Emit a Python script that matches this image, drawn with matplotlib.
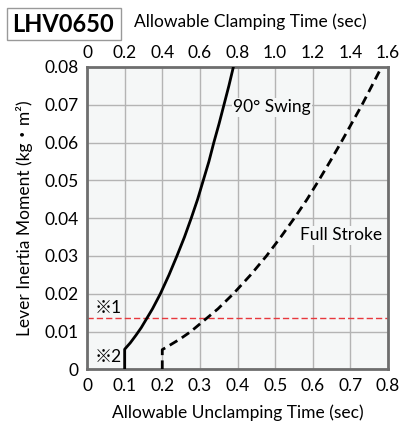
import numpy as np
import matplotlib.pyplot as plt
from matplotlib.patches import Rectangle

plt.rcParams['font.family'] = ['Lato', 'Noto Sans CJK JP', 'DejaVu Sans']

# Data (x = unclamping time, y = inertia)
swing_x = [0.1, 0.1, 0.115, 0.130, 0.144, 0.159, 0.174, 0.195, 0.218, 0.239, 0.259,
           0.277, 0.294, 0.309, 0.324, 0.337, 0.351, 0.364, 0.377, 0.389]
swing_y = [0.0, 0.0053, 0.007, 0.009, 0.011, 0.0135, 0.016, 0.020, 0.025, 0.030, 0.035,
           0.040, 0.045, 0.050, 0.055, 0.060, 0.065, 0.070, 0.075, 0.080]

stroke_x = [0.2, 0.2, 0.222, 0.247, 0.276, 0.318, 0.348, 0.389, 0.435, 0.477, 0.515,
            0.551, 0.585, 0.616, 0.646, 0.675, 0.703, 0.731, 0.757, 0.783]
stroke_y = [0.0, 0.0052, 0.0065, 0.008, 0.010, 0.0135, 0.016, 0.020, 0.025, 0.030, 0.035,
            0.040, 0.045, 0.050, 0.055, 0.060, 0.065, 0.070, 0.075, 0.080]

limit_y = 0.0135

x_ticks = [0, 0.1, 0.2, 0.3, 0.4, 0.5, 0.6, 0.7, 0.8]
x_labels = ['0', '0.1', '0.2', '0.3', '0.4', '0.5', '0.6', '0.7', '0.8']
top_labels = ['0', '0.2', '0.4', '0.6', '0.8', '1.0', '1.2', '1.4', '1.6']
y_ticks = [0, 0.01, 0.02, 0.03, 0.04, 0.05, 0.06, 0.07, 0.08]
y_labels = ['0', '0.01', '0.02', '0.03', '0.04', '0.05', '0.06', '0.07', '0.08']

fig = plt.figure(figsize=(4.01, 4.24), dpi=100)
ax = fig.add_axes([0.217, 0.129, 0.7506, 0.713])
bg = '#f5f7f7'
ax.set_facecolor(bg)

ax.plot(swing_x, swing_y, color='black', lw=2.0, zorder=3, solid_joinstyle='round')
ax.plot(stroke_x, stroke_y, color='black', lw=2.0, dashes=(3.2, 1.9), zorder=3)
ax.axhline(limit_y, color='#e8383d', lw=1.0, dashes=(4.5, 2.2), zorder=2)

ax.set_xlim(0, 0.8)
ax.set_ylim(0, 0.08)
ax.set_xticks(x_ticks, x_labels)
ax.set_yticks(y_ticks, y_labels)
ax.tick_params(length=0, labelsize=12.5, pad=6)
ax.grid(True, color='#b4b4b4', lw=1.0)
ax.set_axisbelow(True)
for s in ax.spines.values():
    s.set_color('#6e6e6e')
    s.set_linewidth(2.0)

top = ax.twiny()
top.set_xlim(0, 1.6)
top.set_xticks([v * 2 for v in x_ticks], top_labels)
top.tick_params(length=0, labelsize=12.5, pad=4)
for s in top.spines.values():
    s.set_visible(False)

ax.text(0.389, 0.0693, '90° Swing', fontsize=12.5, va='center', ha='left',
        bbox=dict(facecolor=bg, edgecolor='none', pad=1), zorder=4)
ax.text(0.566, 0.0355, 'Full Stroke', fontsize=12.5, va='center', ha='left',
        bbox=dict(facecolor=bg, edgecolor='none', pad=1), zorder=4)
ax.text(0.020, 0.0163, '※1', fontsize=12.5, va='center', ha='left')
ax.text(0.020, 0.0033, '※2', fontsize=12.5, va='center', ha='left')

ax.set_xlabel('Allowable Unclamping Time (sec)', fontsize=12.5, labelpad=8)
ax.set_ylabel('Lever Inertia Moment (kg・m²)', fontsize=12.5, labelpad=8)

fig.add_artist(Rectangle((7 / 401, 1 - 40 / 424), 114 / 401, 32 / 424,
                         transform=fig.transFigure, facecolor='white',
                         edgecolor='#999999', lw=1.0))
fig.text(63 / 401, 1 - 25 / 424, 'LHV0650', fontsize=17, fontweight='bold',
         ha='center', va='center')
fig.text(250 / 401, 1 - 22 / 424, 'Allowable Clamping Time (sec)', fontsize=12.5,
         ha='center', va='center')

plt.savefig('out.png', dpi=100)
